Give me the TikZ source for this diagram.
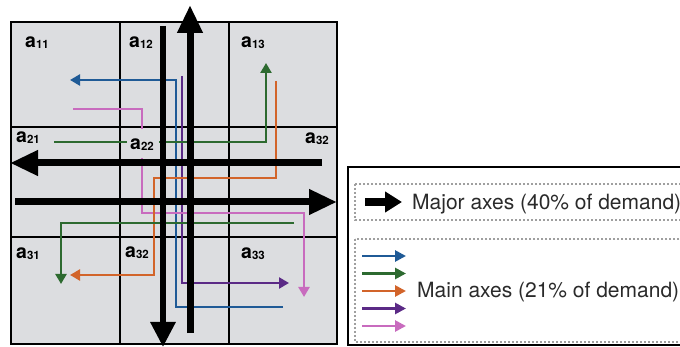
\documentclass[tikz,border=0pt]{standalone}
\usepackage{fontspec}
\setmainfont{TeX Gyre Heros}
\usetikzlibrary{arrows.meta}
\definecolor{cellgray}{HTML}{DCDDE0}
\definecolor{cblue}{HTML}{1F5A96}
\definecolor{cgreen}{HTML}{2D6A30}
\definecolor{corange}{HTML}{D2642A}
\definecolor{cpurple}{HTML}{5B2A86}
\definecolor{cpink}{HTML}{C86BBE}
\definecolor{txt}{HTML}{2A2A2A}
\newcommand{\cellab}[2]{\textbf{#1}\raisebox{-1pt}{\fontsize{11.5}{11.5}\selectfont\textbf{#2}}}
\tikzset{
  major/.style={line width=7pt,-{Triangle[length=28pt,width=24pt]}},
  route/.style={line width=2.5pt,-{Triangle[length=10pt,width=11pt]}},
  legroute/.style={line width=2.8pt,-{Triangle[length=11pt,width=11pt]}},
  lab/.style={anchor=base west,inner sep=0pt,font=\fontsize{19.5}{19.5}\selectfont},
  legtext/.style={anchor=base west,inner sep=0pt,text=txt,font=\fontsize{21}{21}\selectfont},
  legbox/.style={draw=gray!75,line width=1.2pt,dash pattern=on 2pt off 2pt},
}
\begin{document}
\begin{tikzpicture}[x=1pt,y=-1pt]
\useasboundingbox (0,0) rectangle (680,347);
\clip (0,0) rectangle (680,347);
% grid
\fill[cellgray] (11,22) rectangle (337,344);
\draw[line width=1.5pt] (11,22) rectangle (337,344);
\draw[line width=1.5pt] (120,22) -- (120,344) (229,22) -- (229,344)
  (11,127) -- (337,127) (11,237) -- (337,237);
% coloured routes
\draw[route,cblue] (283,307) -- (176,307) -- (176,80) -- (70,80);
\draw[route,cpurple] (182,76) -- (182,283) -- (289,283);
\draw[route,cpink] (73,109) -- (142,109) -- (142,213) -- (304,213) -- (304,297);
\draw[route,cgreen] (54,142) -- (266,142) -- (266,63);
\draw[route,corange] (276,81) -- (276,178) -- (154,178) -- (154,275) -- (70,275);
\draw[route,cgreen] (294,223) -- (61,223) -- (61,284);
% label a22 covering lines
\fill[cellgray] (127,129) rectangle (159,158);
% major axes
\draw[major] (322,163) -- (10,163);
\draw[major] (15,202) -- (337,202);
\draw[major] (190,333) -- (190,5);
\draw[line width=6pt,-{Triangle[length=25pt,width=24pt]}] (163,26) -- (163,347);
% cell labels
\node[lab] (a11) at (25,47.5) {\cellab{a}{11}};
\node[lab] (a12) at (129,47.5) {\cellab{a}{12}};
\node[lab] (a13) at (241,47.5) {\cellab{a}{13}};
\node[lab] (a21) at (16,143) {\cellab{a}{21}};
\node[lab] (a22) at (130,150) {\cellab{a}{22}};
\node[lab] (a23) at (305,144) {\cellab{a}{32}};
\node[lab] (a31) at (16,259) {\cellab{a}{31}};
\node[lab] (a32) at (125,258) {\cellab{a}{32}};
\node[lab] (a33) at (241,259) {\cellab{a}{33}};
% legend
\draw[line width=1.5pt] (348,167) rectangle (700,345);
\draw[legbox] (355,184) rectangle (700,220);
\draw[legbox] (355,239) rectangle (700,342);
\draw[line width=8pt,-{Triangle[length=17pt,width=20pt]}] (365,202) -- (402,202);
\node[legtext] (maj) at (412,210) {Major axes (40\% of demand)};
\draw[legroute,cblue] (362,256) -- (406,256);
\draw[legroute,cgreen] (362,273.5) -- (406,273.5);
\draw[legroute,corange] (362,291) -- (406,291);
\draw[legroute,cpurple] (362,308.5) -- (406,308.5);
\draw[legroute,cpink] (362,326) -- (406,326);
\node[legtext] (mainax) at (417,298) {Main axes (21\% of demand)};
\end{tikzpicture}
\end{document}
